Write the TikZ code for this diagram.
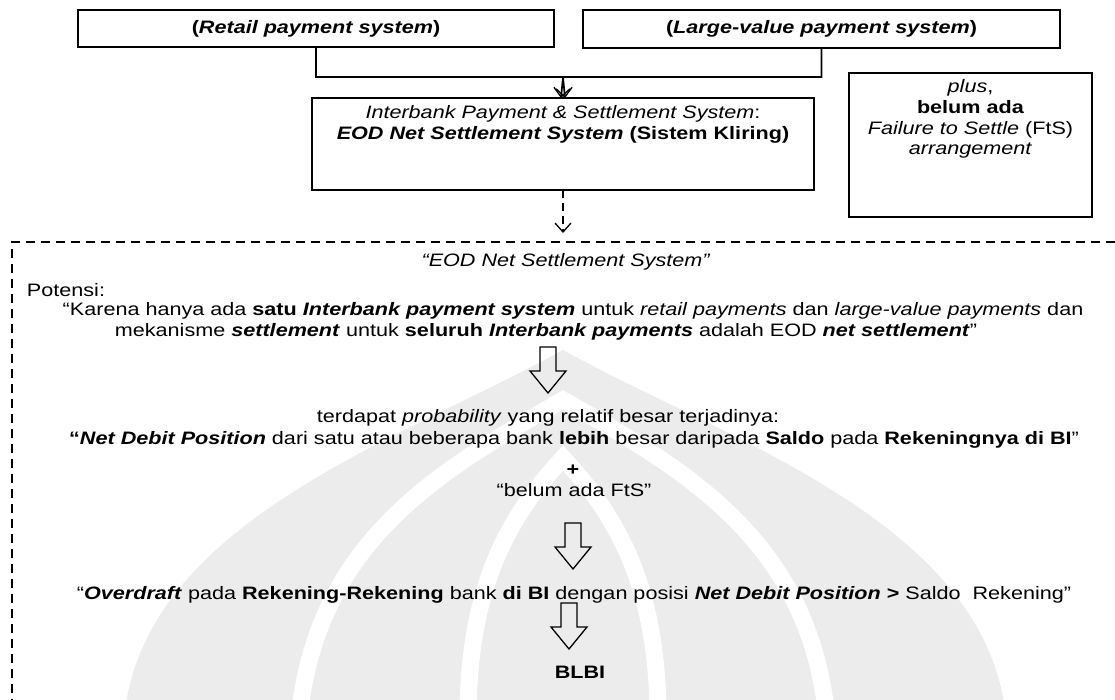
\documentclass[tikz,border=0pt]{standalone}
\usepackage{fontspec}
\usepackage{graphicx}
\setmainfont{Liberation Sans}[FakeStretch=1.2]
\usetikzlibrary{arrows.meta}

\begin{document}
\begin{tikzpicture}[x=1pt,y=-1pt,
  every node/.style={font=\fontsize{18}{21}\selectfont, inner sep=0pt, outer sep=0pt},
  sysbox/.style={draw, line width=1.8pt, rectangle},
  vtip/.style={-{Straight Barb[length=9pt,width=16pt,line width=1.3pt]}},
  flow/.style={line width=1.7pt},
  frameline/.style={line width=1.9pt, dash pattern=on 9pt off 6pt},
  emblem/.style={fill=gray!15, draw=none},
  emblemcut/.style={draw=white, line width=17pt},
  blockdown/.pic={\draw[line width=1.3pt, line join=miter]
      (-8,0) -- (8,0) -- (8,24) -- (18,24) -- (0,46) -- (-18,24) -- (-8,24) -- cycle;}
]
\useasboundingbox (0,0) rectangle (1115,699);

% faint emblem behind the analysis text
\begin{scope}
\clip (0,0) rectangle (1115,699);
\fill[emblem] (563,350) .. controls (400,440) and (150,520) .. (125,710)
  -- (1005,710) .. controls (980,520) and (726,440) .. (563,350) -- cycle;
\draw[emblemcut] (300,710) .. controls (320,540) and (440,470) .. (563,400)
  .. controls (686,470) and (806,540) .. (826,710);
\draw[emblemcut] (468,710) .. controls (470,590) and (505,520) .. (563,458)
  .. controls (621,520) and (656,590) .. (658,710);
\end{scope}

% top row: the two payment systems
\node[sysbox, minimum width=476pt, minimum height=37pt] (retail) at (316,28.5)
  {\textbf{(\textit{Retail payment system})}};
\node[sysbox, minimum width=477pt, minimum height=38pt] (large) at (821.5,29)
  {\textbf{(\textit{Large-value payment system})}};

% interbank system box
\node[sysbox, minimum width=502pt, minimum height=92pt] (ib) at (563,144) {};
\node[align=center] (ibtext) at (563,124)
  {\textit{Interbank Payment \& Settlement System}:\\
   \textbf{\textit{EOD Net Settlement System} (Sistem Kliring)}};

% side note box
\node[sysbox, minimum width=243pt, minimum height=144pt] (fts) at (970.5,145) {};
\node[align=center, font=\fontsize{18}{20.7}\selectfont] (ftstext) at (970.5,119)
  {\textit{plus},\\ \textbf{belum ada}\\ \textit{Failure to Settle} (FtS)\\ \textit{arrangement}};

% both systems feed the interbank system
\coordinate (jn) at (563,77);
\draw[flow, vtip] (retail.south) |- (jn) -- ([xshift=-2pt]ib.north);
\draw[flow, vtip] (large.south) |- (jn) -- ([xshift=2pt]ib.north);

% dashed frame of the analysis
\coordinate (ftop) at (563,242);
\draw[frameline] (1130,242) -- (12,242) -- (12,712);
\draw[line width=1.6pt, dash pattern=on 8pt off 5pt, vtip, shorten >=9pt] (ib.south) -- (ftop);

% analysis text
\node (eodq) at (566,262) {\textit{“EOD Net Settlement System”}};
\node[anchor=west] (pot) at (27,290) {Potensi:};
\node (l1) at (573,311) {“Karena hanya ada \textbf{satu} \textbf{\textit{Interbank payment system}} untuk \textit{retail payments} dan \textit{large-value payments} dan};
\node (l2) at (546,332) {mekanisme \textbf{\textit{settlement}} untuk \textbf{seluruh} \textbf{\textit{Interbank payments}} adalah EOD \textbf{\textit{net settlement}}”};
\pic at (548,347) {blockdown};
\node (l3) at (548,418) {terdapat \textit{probability} yang relatif besar terjadinya:};
\node (l4) at (574,440) {\textbf{“\textit{Net Debit Position}} dari satu atau beberapa bank \textbf{lebih} besar daripada \textbf{Saldo} pada \textbf{Rekeningnya di BI}”};
\node (plus) at (573,470) {\textbf{+}};
\node (l5) at (574,490) {“belum ada FtS”};
\pic at (573,523) {blockdown};
\node (l6) at (574,595) {“\textbf{\textit{Overdraft}} pada \textbf{Rekening-Rekening} bank \textbf{di BI} dengan posisi \textbf{\textit{Net Debit Position}} \textbf{>} Saldo\ \ Rekening”};
\pic at (569,603) {blockdown};
\node (blbi) at (580,672) {\textbf{BLBI}};
\end{tikzpicture}
\end{document}
